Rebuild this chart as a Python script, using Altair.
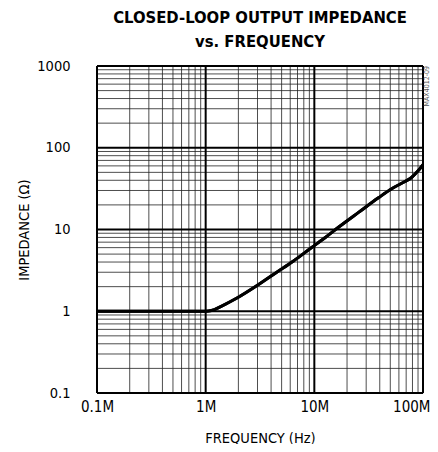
import json
import altair as alt
import pandas as pd

# Curve data (frequency in Hz, impedance in ohms)
freq = [1e5, 3e5, 1.0e6, 1.13e6, 1.39e6, 1.96e6, 2.97e6, 4.51e6, 6.39e6, 9.38e6, 12.8e6,
        16.9e6, 25.7e6, 38.9e6, 51.5e6, 67.6e6, 78e6, 89.3e6, 100e6]
imped = [1.0, 1.0, 1.0, 1.02, 1.15, 1.46, 2.06, 3.0, 4.09, 5.98, 8.1,
         10.8, 16.3, 24.4, 31.5, 38.4, 43, 51.5, 62]

x_major = [1e5, 1e6, 1e7, 1e8]
x_labels = ["0.1M", "1M", "10M", "100M"]
y_major = [0.1, 1, 10, 100, 1000]
y_labels = ["0.1", "1", "10", "100", "1000"]
mults = [2, 3, 4, 5, 6, 7, 8, 9]
title_lines = ["CLOSED-LOOP OUTPUT IMPEDANCE", "vs. FREQUENCY"]
tag_text = ["MAX4012-09"]

x_minor = [m * d for d in x_major[:-1] for m in mults]
y_minor = [m * d for d in y_major[:-1] for m in mults]

FONT = "DejaVu Sans Condensed, Liberation Sans, sans-serif"
TFONT = "DejaVu Sans Condensed, Liberation Sans, sans-serif"

xs = alt.Scale(type="log", domain=[1e5, 1e8], nice=False)
ys = alt.Scale(type="log", domain=[0.1, 1000], nice=False)

df = pd.DataFrame({"f": freq, "z": imped})

xlab_expr = json.dumps(x_labels) + "[round(log(datum.value) / LN10) - 5]"
ylab_expr = json.dumps(y_labels) + "[round(log(datum.value) / LN10) + 1]"
last_x = f"datum.value >= {x_major[-1] * 0.99}"

x_axis = alt.Axis(values=x_major, labelExpr=xlab_expr, title="FREQUENCY (Hz)",
                  grid=False, ticks=False, domain=False, labelPadding=6,
                  labelAlign=alt.condition(last_x, alt.value("right"), alt.value("center")),
                  labelOffset=alt.condition(last_x, alt.value(7), alt.value(0)),
                  labelFont=FONT, labelFontSize=15, labelColor="black",
                  titleFont=FONT, titleFontSize=14.5, titleFontWeight="normal",
                  titleColor="black", titlePadding=17, labelFlush=False)
y_axis = alt.Axis(values=y_major, labelExpr=ylab_expr, title="IMPEDANCE (Ω)",
                  grid=False, ticks=False, domain=False, labelPadding=27,
                  labelFont=FONT, labelFontSize=14.5, labelColor="black",
                  titleFont=FONT, titleFontSize=14.5, titleFontWeight="normal",
                  titleColor="black", titlePadding=5, labelFlush=False)

line = alt.Chart(df).mark_line(color="black", strokeWidth=3, interpolate="monotone").encode(
    x=alt.X("f:Q", scale=xs, axis=x_axis),
    y=alt.Y("z:Q", scale=ys, axis=y_axis),
)
xminor = alt.Chart(pd.DataFrame({"f": x_minor})).mark_rule(color="#222", strokeWidth=1, opacity=0.8).encode(
    x=alt.X("f:Q", scale=xs, axis=x_axis))
yminor = alt.Chart(pd.DataFrame({"z": y_minor})).mark_rule(color="#222", strokeWidth=1, opacity=0.8).encode(
    y=alt.Y("z:Q", scale=ys, axis=y_axis))
xmaj = alt.Chart(pd.DataFrame({"f": x_major})).mark_rule(color="black", strokeWidth=2).encode(
    x=alt.X("f:Q", scale=xs, axis=x_axis))
ymaj = alt.Chart(pd.DataFrame({"z": y_major})).mark_rule(color="black", strokeWidth=2).encode(
    y=alt.Y("z:Q", scale=ys, axis=y_axis))

tdf = pd.DataFrame({"t": title_lines, "i": [0, 1]})
t1 = alt.Chart(tdf).transform_filter("datum.i == 0").mark_text(
    align="center", baseline="alphabetic", fontSize=16.5, fontWeight="bold", font=TFONT, color="black"
).encode(x=alt.value(163), y=alt.value(-43), text="t:N")
t2 = alt.Chart(tdf).transform_filter("datum.i == 1").mark_text(
    align="center", baseline="alphabetic", fontSize=16.5, fontWeight="bold", font=TFONT, color="black"
).encode(x=alt.value(163), y=alt.value(-19), text="t:N")

tag = alt.Chart(pd.DataFrame({"t": tag_text})).mark_text(
    angle=270, align="right", baseline="middle", fontSize=7, color="#555", font=FONT
).encode(x=alt.value(330), y=alt.value(0), text="t:N")

chart = alt.layer(line, xminor, yminor, xmaj, ymaj, line, t1, t2, tag).properties(
    width=326, height=327,
    autosize=alt.AutoSizeParams(type="none"),
    padding={"left": 89, "top": 58, "right": 7, "bottom": 51},
).configure_view(stroke="black", strokeWidth=3).configure(background="white")

chart.save("out.html", embed_options={"renderer": "svg", "actions": False})
